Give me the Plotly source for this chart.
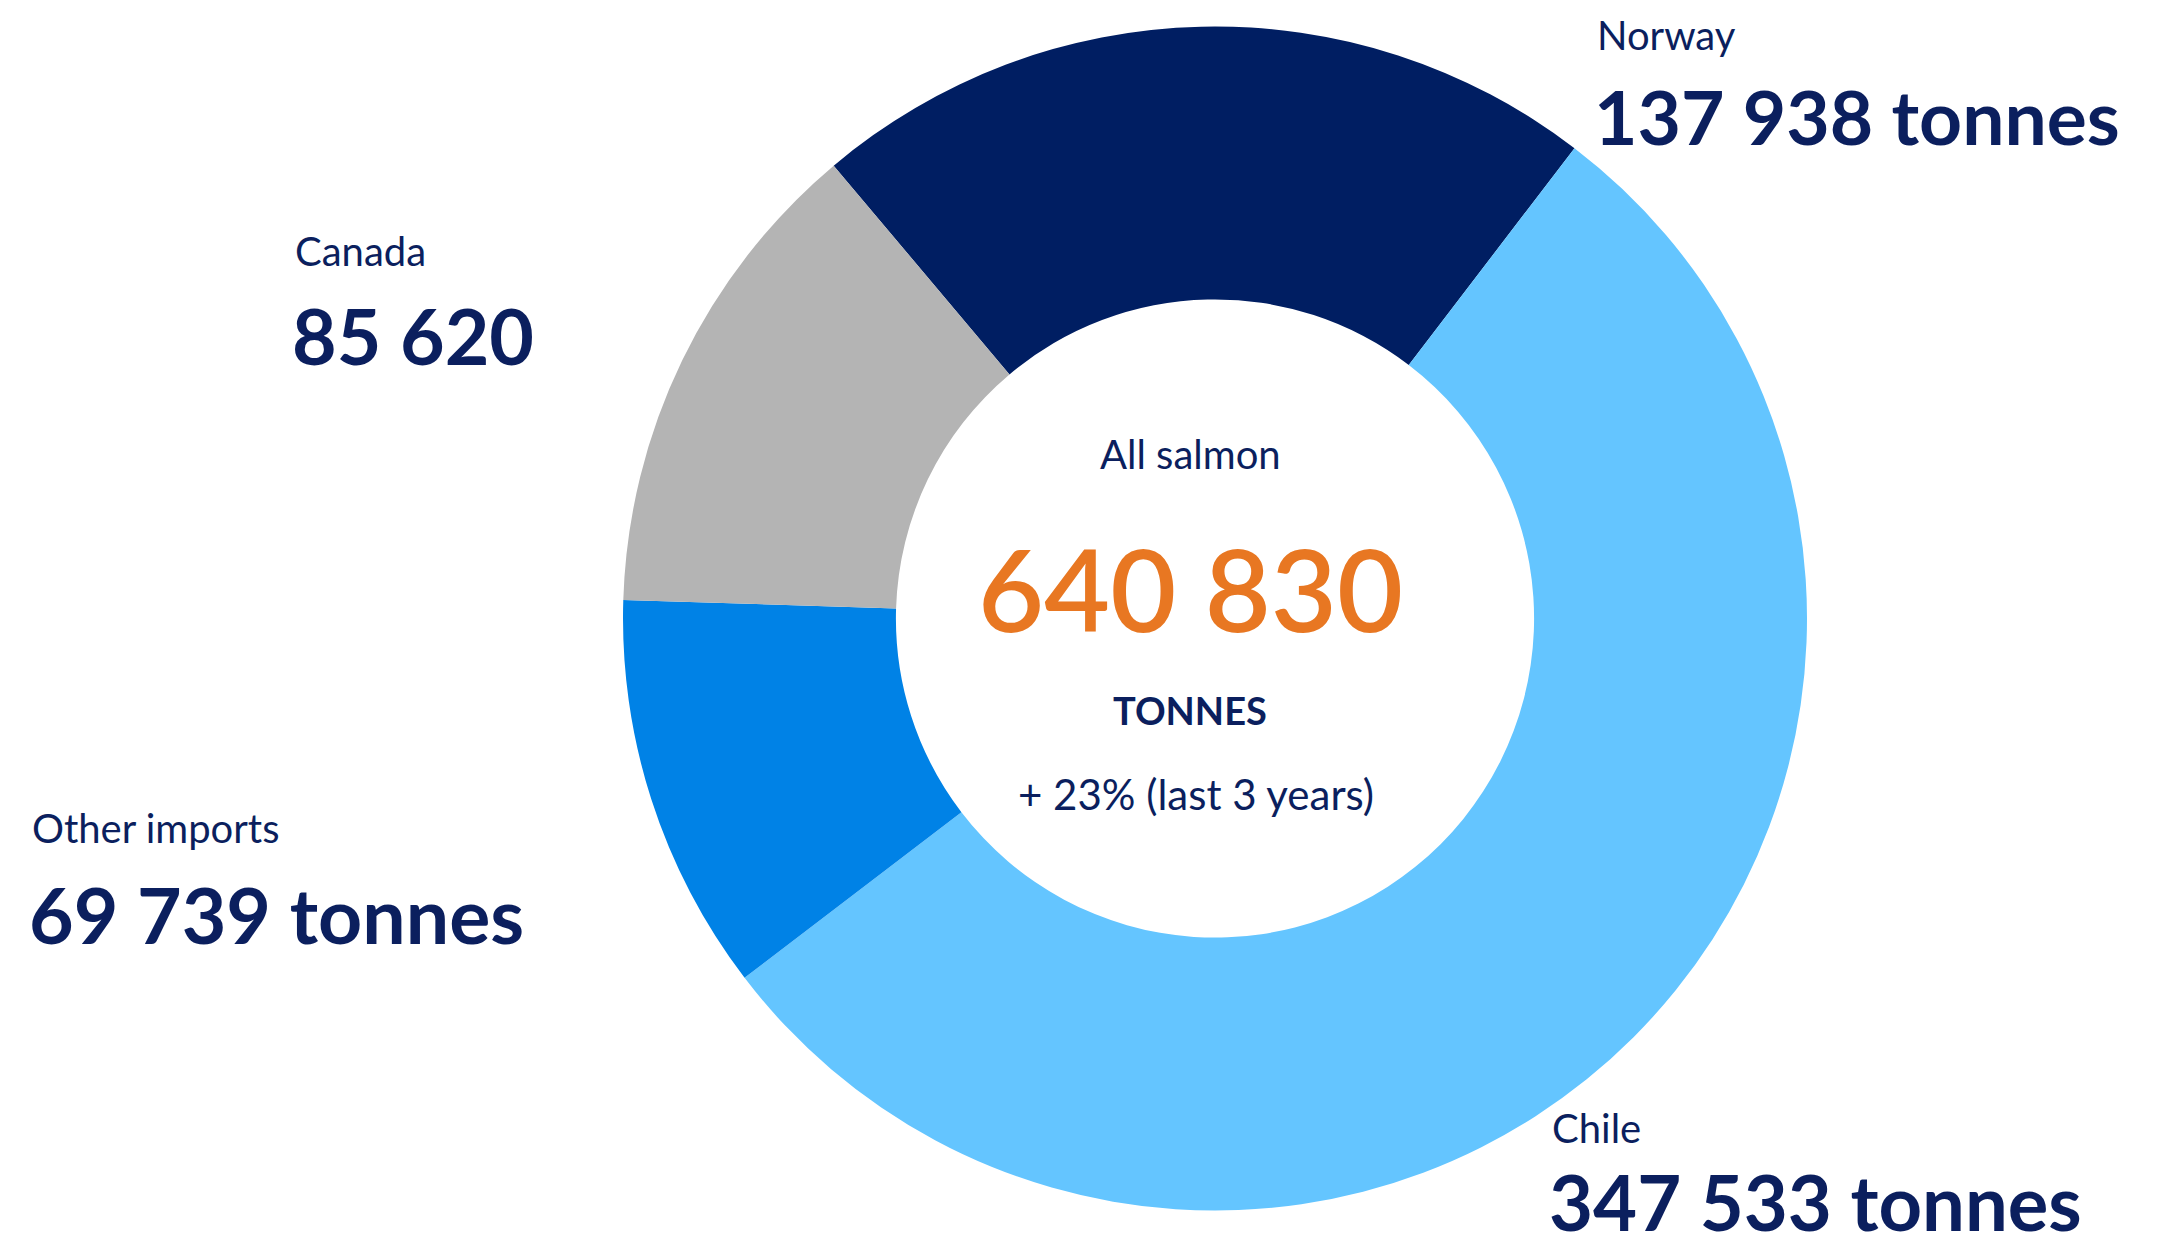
import plotly.graph_objects as go

countries = ["Norway", "Chile", "Other imports", "Canada"]
tonnes = [137938, 347533, 69739, 85620]
value_labels = ["137 938 tonnes", "347 533 tonnes", "69 739 tonnes", "85 620"]
slice_colors = ["#001E62", "#64C5FF", "#0082E6", "#B4B4B4"]
total_label = "640 830"
center_title = "All salmon"
unit_label = "TONNES"
growth_label = "+ 23% (last 3 years)"

NAVY = "#0B1F5E"
ORANGE = "#E87722"
FONT = "Lato"

W, H = 2165, 1248
OFF = 8  # page body margin compensation (px)

# donut geometry in target pixel coords
CX, CY, R = 1215 - OFF, 618.5 - OFF, 592
dom_x = [(CX - R) / W, (CX + R) / W]
dom_y = [(H - CY - R) / H, (H - CY + R) / H]

fig = go.Figure(go.Pie(
    labels=countries,
    values=tonnes,
    marker=dict(colors=slice_colors, line=dict(width=0)),
    hole=0.539,
    sort=False,
    direction="clockwise",
    rotation=-40.1,
    textinfo="none",
    hoverinfo="label+value",
    showlegend=False,
    domain=dict(x=dom_x, y=dom_y),
))

# label positions (px from left, px from top) in target image
label_pos = {
    "Norway": (1595, 35, 116, 75),
    "Chile": (1550, 1128, 1201, 76),
    "Other imports": (30, 828, 914, 77),
    "Canada": (293, 251, 335, 77),
}


def px(x, y):
    return (x - OFF) / W, 1 - (y - OFF) / H


annotations = []
for name, val in zip(countries, value_labels):
    x, y1, y2, size = label_pos[name]
    ax, ay = px(x, y1)
    annotations.append(dict(
        x=ax, y=ay, xref="paper", yref="paper",
        xanchor="left", yanchor="middle", showarrow=False,
        text=name, font=dict(family=FONT, size=40, color=NAVY)))
    bx, by = px(x - 3, y2)
    annotations.append(dict(
        x=bx, y=by, xref="paper", yref="paper",
        xanchor="left", yanchor="middle", showarrow=False,
        text="<b>" + val + "</b>", font=dict(family=FONT, size=size, color=NAVY)))

center_items = [
    (454, 1190, center_title, 40, NAVY, "normal"),
    (587, 1190, total_label, 114, ORANGE, 600),
    (710, 1190, "<b>" + unit_label + "</b>", 38, NAVY, "normal"),
    (794, 1196, growth_label, 42, NAVY, "normal"),
]
for y, x, txt, size, col, wt in center_items:
    ax, ay = px(x, y)
    annotations.append(dict(
        x=ax, y=ay, xref="paper", yref="paper", showarrow=False,
        xanchor="center", yanchor="middle", text=txt,
        font=dict(family=FONT, size=size, color=col, weight=wt)))

fig.update_layout(
    width=W, height=H,
    margin=dict(l=0, r=0, t=0, b=0),
    paper_bgcolor="white", plot_bgcolor="white",
    annotations=annotations,
)

fig.write_html("out.html")
